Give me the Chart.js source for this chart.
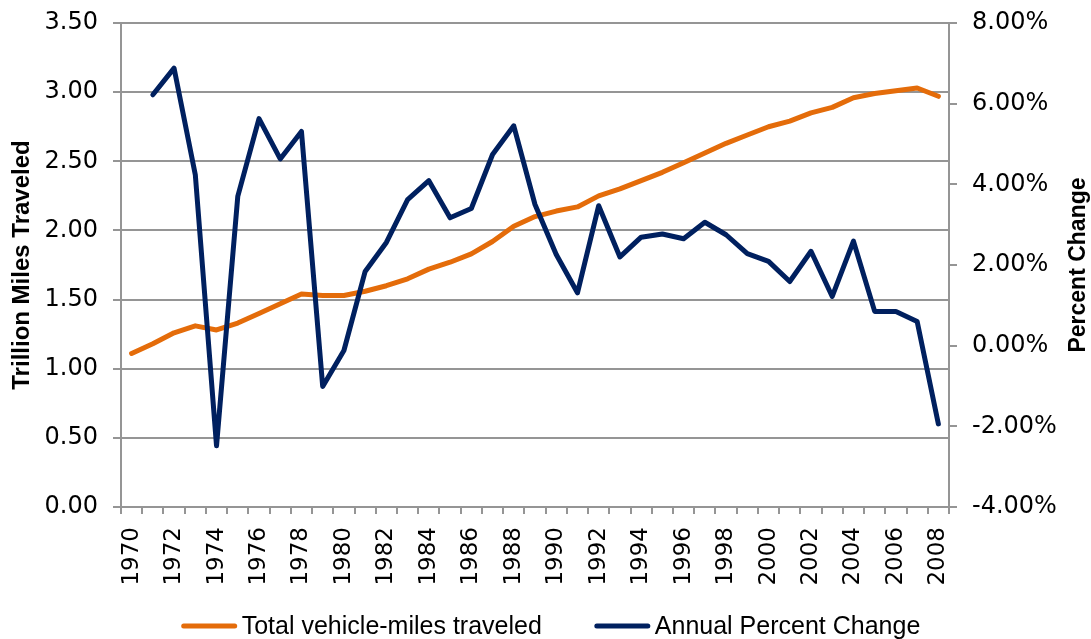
<!DOCTYPE html>
<html>
<head>
<meta charset="utf-8">
<script src="https://cdn.jsdelivr.net/npm/chart.js@4/dist/chart.umd.min.js"></script>
<style>
html,body{margin:0;padding:0;background:#fff;}
#wrap{width:1091px;height:639px;position:relative;}
</style>
</head>
<body>
<div id="wrap"><canvas id="c" width="1091" height="639"></canvas></div>
<script>
const years = ['1970','1971','1972','1973','1974','1975','1976','1977','1978','1979','1980','1981','1982','1983','1984','1985','1986','1987','1988','1989','1990','1991','1992','1993','1994','1995','1996','1997','1998','1999','2000','2001','2002','2003','2004','2005','2006','2007','2008'];
const vmtTrillion = [1.11,1.18,1.26,1.31,1.28,1.33,1.40,1.47,1.54,1.53,1.53,1.56,1.60,1.65,1.72,1.77,1.83,1.92,2.03,2.10,2.14,2.17,2.25,2.30,2.36,2.42,2.49,2.56,2.63,2.69,2.75,2.79,2.85,2.89,2.96,2.99,3.01,3.03,2.97];
const annualPctChange = [null,6.22,6.88,4.24,-2.48,3.70,5.63,4.63,5.31,-1.01,-0.12,1.84,2.56,3.62,4.09,3.17,3.40,4.74,5.45,3.50,2.26,1.31,3.47,2.20,2.69,2.77,2.65,3.06,2.75,2.28,2.09,1.59,2.34,1.22,2.59,0.85,0.85,0.60,-1.94];
const leftTicks = {min:0, max:3.5, step:0.5};
const rightTicks = {min:-4, max:8, step:2};

const GRID = '#959595';
const ORANGE = '#E46C0A';
const NAVY = '#00205F';
const FONT = 'DejaVu Sans';
const NARROW = '"Liberation Sans Narrow", "Liberation Sans"';

const extras = {
  id:'extras',
  afterDraw(chart){
    const ctx = chart.ctx;
    ctx.save();
    // right axis title (reads bottom to top)
    ctx.translate(1079, 265);
    ctx.rotate(-Math.PI/2);
    ctx.font = 'bold 23px ' + NARROW;
    ctx.fillStyle = '#000';
    ctx.textAlign = 'center';
    ctx.textBaseline = 'middle';
    ctx.fillText('Percent Change', 0, 0);
    ctx.restore();

    // legend
    ctx.save();
    ctx.font = '25px "Liberation Sans"';
    ctx.textBaseline = 'middle';
    ctx.textAlign = 'left';
    const lineW = 55, gapT = 5, gapItem = 53, cy = 626;
    const items = chart.data.datasets.map(d => ({text:d.label, color:d.borderColor, w:ctx.measureText(d.label).width}));
    let total = 0;
    items.forEach((it,i)=>{ total += lineW + gapT + it.w + (i < items.length-1 ? gapItem : 0); });
    let x = 551 - total/2;
    items.forEach(it=>{
      ctx.strokeStyle = it.color;
      ctx.lineWidth = 5;
      ctx.lineCap = 'round';
      ctx.beginPath();
      ctx.moveTo(x + 2, cy);
      ctx.lineTo(x + lineW - 2, cy);
      ctx.stroke();
      x += lineW + gapT;
      ctx.fillStyle = '#000';
      ctx.fillText(it.text, x, cy + 1);
      x += it.w + gapItem;
    });
    ctx.restore();
  }
};

new Chart(document.getElementById('c'), {
  type:'line',
  data:{
    labels: years,
    datasets:[
      {label:'Total vehicle-miles traveled', data:vmtTrillion, yAxisID:'y', borderColor:ORANGE, backgroundColor:ORANGE, borderWidth:5, pointRadius:0, tension:0, order:2, borderJoinStyle:'round', borderCapStyle:'round'},
      {label:'Annual Percent Change', data:annualPctChange, yAxisID:'y1', borderColor:NAVY, backgroundColor:NAVY, borderWidth:5, pointRadius:0, tension:0, order:1, borderJoinStyle:'round', borderCapStyle:'round'}
    ]
  },
  options:{
    responsive:false,
    animation:false,
    layout:{padding:{left:0,right:0,top:23,bottom:0}},
    plugins:{
      tooltip:{enabled:false},
      legend:{display:false}
    },
    scales:{
      x:{
        offset:true,
        afterFit(s){ s.height = 132; s.paddingLeft = 0; s.paddingRight = 0; },
        grid:{offset:true, drawOnChartArea:false, drawTicks:true, tickLength:7, color:GRID, lineWidth:2},
        border:{display:true, color:GRID, width:2},
        ticks:{autoSkip:false, maxRotation:90, minRotation:90, padding:13, color:'#000', font:{family:FONT, size:23},
          callback(v, i){ return i%2===0 ? years[i] : ''; }}
      },
      y:{
        position:'left',
        min:leftTicks.min, max:leftTicks.max,
        afterFit(s){ s.width = 121; s.paddingTop = 0; s.paddingBottom = 0; },
        grid:{color:GRID, lineWidth:2, tickLength:8},
        border:{color:GRID, width:2},
        ticks:{stepSize:leftTicks.step, padding:15, color:'#000', font:{family:FONT, size:24}, callback:v=>Number(v).toFixed(2)},
        title:{display:true, text:'Trillion Miles Traveled', color:'#000', font:{family:NARROW, size:24, weight:'bold'}, padding:{top:8,bottom:0}}
      },
      y1:{
        position:'right',
        min:rightTicks.min, max:rightTicks.max,
        afterFit(s){ s.width = 1091-949; s.paddingTop = 0; s.paddingBottom = 0; },
        grid:{drawOnChartArea:false, color:GRID, lineWidth:2, tickLength:8},
        border:{color:GRID, width:2},
        ticks:{stepSize:rightTicks.step, padding:15, color:'#000', font:{family:FONT, size:24}, callback:v=>Number(v).toFixed(2)+'%'}
      }
    }
  },
  plugins:[extras]
});
</script>
</body>
</html>
